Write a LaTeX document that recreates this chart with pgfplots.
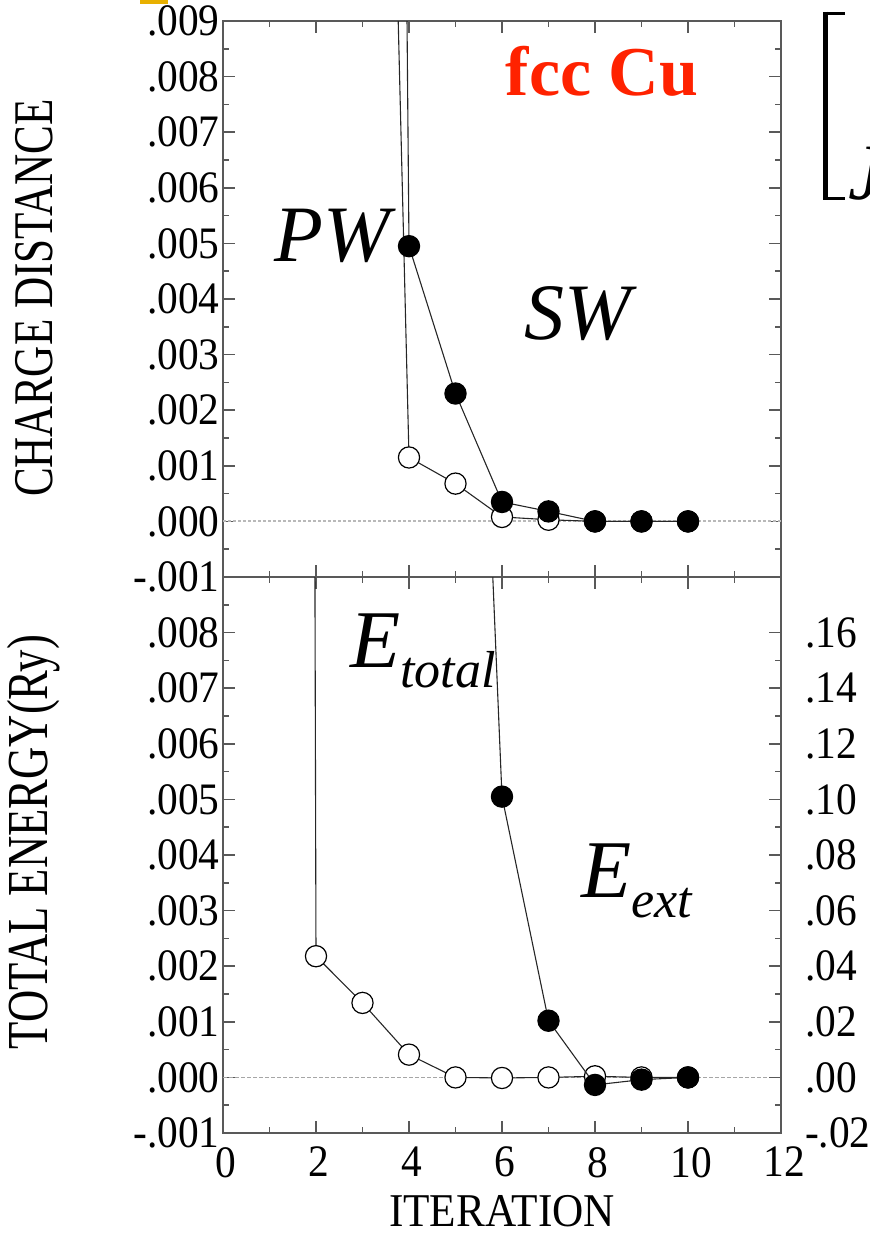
\documentclass[border=0pt]{standalone}
\usepackage{fontspec}
\setmainfont{Liberation Serif}
\newfontfamily\tickfont[FakeStretch=0.92]{Liberation Serif}
\newfontfamily\ylabfont[FakeStretch=0.77]{Liberation Serif}
\usepackage{pgfplots}
\pgfplotsset{compat=1.18}
\definecolor{fccred}{RGB}{255,34,0}
\definecolor{goldbar}{RGB}{232,176,0}

\pgfplotstableread{
x y
3 0.035
4 0.00115
5 0.00068
6 0.00008
7 0.00003
8 0
9 0
10 0
}\topopen
\pgfplotstableread{
x y
3 0.1
4 0.00495
5 0.0023
6 0.00035
7 0.00018
8 0
9 0
10 0
}\topfilled
\pgfplotstableread{
x y
1 0.3
2 0.00218
3 0.00134
4 0.00041
5 0.0
6 -0.00001
7 0.0
8 0.00002
9 0
10 0
}\botopen
\pgfplotstableread{
x y
5 0.5
6 0.101
7 0.0204
8 -0.0027
9 -0.0008
10 0
}\botfilled

\pgfplotsset{
  panel/.style={
    scale only axis, width=279pt, height=278pt,
    xmin=0, xmax=12, ymin=-0.001, ymax=0.009,
    scaled x ticks=false, scaled y ticks=false,
    xtick={0,2,4,6,8,10,12}, minor x tick num=1,
    ytick={-0.001,0,0.001,0.002,0.003,0.004,0.005,0.006,0.007,0.008,0.009},
    minor y tick num=1,
    tick align=inside,
    major tick length=6pt, minor tick length=3pt,
    axis line style={black!65, line width=0.9pt},
    tick style={black!65, line width=0.8pt},
    tick label style={font={\tickfont\fontsize{22.5}{22.5}\selectfont}},
    /pgf/number format/assume math mode=true,
    yticklabel style={inner xsep=1.5pt},
    xticklabel style={yshift=-3.5pt, xshift=1.5pt},
  },
  openm/.style={black!85, line width=0.55pt, mark=*, mark size=5.3pt,
    mark options={fill=white, draw=black, line width=0.6pt}},
  fillm/.style={black!85, line width=0.55pt, mark=*, mark size=5.3pt,
    mark options={fill=black, draw=black, line width=0.6pt}},
}

\begin{document}
\begin{tikzpicture}
\path[use as bounding box] (0,0) rectangle (435pt,-618.5pt);

% top panel
\begin{axis}[panel, at={(111.5pt,-288.5pt)}, anchor=south west,
  xticklabels={},
  yticklabels={-.001,.000,.001,.002,.003,.004,.005,.006,.007,.008,.009}]
  \addplot[gray!55, line width=1pt, dash pattern=on 1.5pt off 1pt] coordinates {(0,0) (12,0)};
  \addplot[openm] table[x=x,y=y] {\topopen};
  \addplot[fillm] table[x=x,y=y] {\topfilled};
\end{axis}

% bottom panel (left axis)
\begin{axis}[panel, at={(111.5pt,-566.5pt)}, anchor=south west,
  ytick pos=left,
  xticklabels={0,2,4,6,8,10,12},
  yticklabels={-.001,.000,.001,.002,.003,.004,.005,.006,.007,.008,{}}]
  \addplot[gray!70, line width=0.5pt, dash pattern=on 2pt off 1pt] coordinates {(0,0) (12,0)};
  \addplot[openm] table[x=x,y=y] {\botopen};
\end{axis}

% bottom panel (right axis)
\begin{axis}[scale only axis, width=279pt, height=278pt,
  at={(111.5pt,-566.5pt)}, anchor=south west,
  xmin=0, xmax=12, ymin=-0.02, ymax=0.18,
  scaled x ticks=false, scaled y ticks=false,
  axis x line=none, axis y line*=right,
  ytick={-0.02,0,0.02,0.04,0.06,0.08,0.10,0.12,0.14,0.16},
  yticklabels={-.02,.00,.02,.04,.06,.08,.10,.12,.14,.16},
  minor y tick num=1,
  tick align=inside,
  major tick length=6pt, minor tick length=3pt,
  axis line style={black!65, line width=0.9pt},
  tick style={black!65, line width=0.8pt},
  tick label style={font={\tickfont\fontsize{22.5}{22.5}\selectfont}},
  /pgf/number format/assume math mode=true,
  yticklabel style={anchor=west, xshift=8.5pt}]
  \addplot[fillm] table[x=x,y=y] {\botfilled};
\end{axis}

\begin{scope}[x=0.5pt, y=-0.5pt]
  \fill[goldbar] (140,0) rectangle (168,3.5);
  \node[anchor=base, text=fccred, font={\bfseries\fontsize{35}{35}\selectfont}] at (602,95) {fcc Cu};
  \node[anchor=base west, inner sep=0pt, font={\itshape\fontsize{40}{40}\selectfont}] at (274,261) {PW};
  \node[anchor=base west, inner sep=0pt, font={\itshape\fontsize{40}{40}\selectfont}] at (524,339) {SW};
  \node[anchor=base west, inner sep=0pt, font={\itshape\fontsize{41}{41}\selectfont}] at (350,667)
    {E\raisebox{-10pt}{\fontsize{26}{26}\selectfont total}};
  \node[anchor=base west, inner sep=0pt, font={\itshape\fontsize{41}{41}\selectfont}] at (581,897)
    {E\raisebox{-10pt}{\fontsize{26}{26}\selectfont ext}};
  \node[rotate=90, font={\ylabfont\fontsize{28}{28}\selectfont}] at (34,298) {CHARGE DISTANCE};
  \node[rotate=90, font={\ylabfont\fontsize{29}{29}\selectfont}] at (34,842) {TOTAL ENERGY(Ry)};
  \node[anchor=base, inner sep=0pt, font={\tickfont\fontsize{23.5}{23.5}\selectfont}] at (502,1226) {ITERATION};
  \draw[line width=2.5pt] (825.5,11.5) -- (825.5,200);
  \draw[line width=1.7pt] (824.3,13.5) -- (845,13.5);
  \draw[line width=1.7pt] (824.3,198.5) -- (845,198.5);
  \node[anchor=base west, inner sep=0pt, font={\itshape\fontsize{40}{40}\selectfont}] at (848,199) {J};
\end{scope}
\end{tikzpicture}
\end{document}
